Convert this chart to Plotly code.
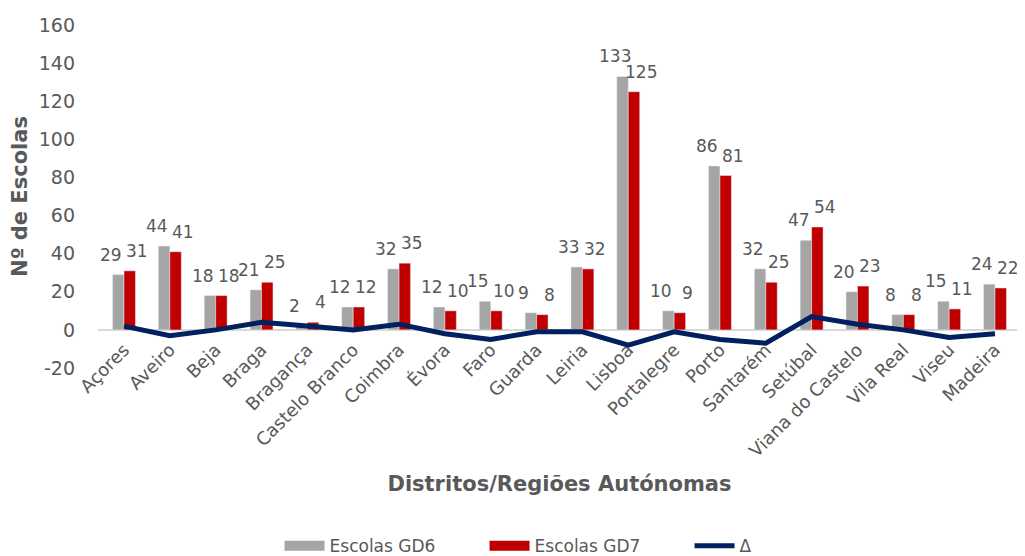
import plotly.graph_objects as go

categories = ["Açores", "Aveiro", "Beja", "Braga", "Bragança", "Castelo Branco", "Coimbra",
              "Évora", "Faro", "Guarda", "Leiria", "Lisboa", "Portalegre", "Porto", "Santarém",
              "Setúbal", "Viana do Castelo", "Vila Real", "Viseu", "Madeira"]
gd6 = [29, 44, 18, 21, 2, 12, 32, 12, 15, 9, 33, 133, 10, 86, 32, 47, 20, 8, 15, 24]
gd7 = [31, 41, 18, 25, 4, 12, 35, 10, 10, 8, 32, 125, 9, 81, 25, 54, 23, 8, 11, 22]
delta = [b - a for a, b in zip(gd6, gd7)]
y_ticks = [-20, 0, 20, 40, 60, 80, 100, 120, 140, 160]
y_tick_labels = ["-20", "0", "20", "40", "60", "80", "100", "120", "140", "160"]
y_min, y_max = -20, 160

FONT = "DejaVu Sans"
TXT = "#595959"
C6, C7, CD = "#A5A5A5", "#C00000", "#002060"

fig = go.Figure()
fig.add_trace(go.Bar(x=categories, y=gd6, name="Escolas GD6", marker_color=C6, showlegend=False))
fig.add_trace(go.Bar(x=categories, y=gd7, name="Escolas GD7", marker_color=C7, showlegend=False))
fig.add_trace(go.Scatter(x=categories, y=delta, name="Δ", mode="lines",
                         line=dict(color=CD, width=5), showlegend=False))
# legend entries (wide swatches like the original)
fig.add_trace(go.Scatter(x=[None], y=[None], name="Escolas GD6", mode="lines",
                         line=dict(color=C6, width=10)))
fig.add_trace(go.Scatter(x=[None], y=[None], name="Escolas GD7", mode="lines",
                         line=dict(color=C7, width=10)))
fig.add_trace(go.Scatter(x=[None], y=[None], name="Δ", mode="lines",
                         line=dict(color=CD, width=5)))

annotations = []
for c, a, b in zip(categories, gd6, gd7):
    annotations.append(dict(x=c, y=a, text=str(a), showarrow=False, xshift=-13, yshift=8,
                            yanchor="bottom", font=dict(size=17, color=TXT, family=FONT)))
    annotations.append(dict(x=c, y=b, text=str(b), showarrow=False, xshift=13, yshift=8,
                            yanchor="bottom", font=dict(size=17, color=TXT, family=FONT)))

fig.update_layout(
    width=1017, height=548,
    margin=dict(l=90, r=4, t=17, b=188, autoexpand=False),
    paper_bgcolor="white", plot_bgcolor="white",
    barmode="group", bargap=0.5, bargroupgap=0,
    font=dict(family=FONT, color=TXT),
    annotations=annotations,
    legend=dict(orientation="h", xref="container", x=0.267, xanchor="left",
                yref="container", y=0.018, yanchor="middle",
                entrywidth=150, entrywidthmode="pixels", itemwidth=40,
                font=dict(size=17, color=TXT, family=FONT)),
    xaxis=dict(tickangle=-45, tickfont=dict(size=18, color=TXT), showline=False, automargin=False,
               anchor="free", position=(0 - y_min) / (y_max - y_min), ticklabelstandoff=5,
               title=dict(text="<b>Distritos/Regiões Autónomas</b>", font=dict(size=21, color=TXT),
                          standoff=16)),
    yaxis=dict(range=[y_min, y_max], tickvals=y_ticks, ticktext=y_tick_labels, showgrid=False,
               zeroline=True, automargin=False,
               zerolinecolor="#D9D9D9", zerolinewidth=1.5, tickfont=dict(size=19, color=TXT),
               ticklabelstandoff=22,
               title=dict(text="<b>Nº de Escolas</b>", font=dict(size=21, color=TXT), standoff=12)),
)
fig.write_html("out.html")
